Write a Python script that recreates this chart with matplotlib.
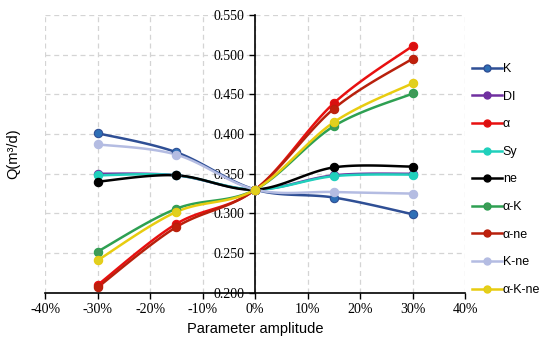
"""Sensitivity of Q to parameter amplitude."""

import numpy as np
import matplotlib
matplotlib.use("Agg")
import matplotlib.pyplot as plt
from matplotlib.lines import Line2D

amplitude = [-30, -15, 0, 15, 30]

q_k = [0.401, 0.377, 0.330, 0.320, 0.299]
q_di = [0.350, 0.348, 0.330, 0.348, 0.350]
q_alpha = [0.210, 0.287, 0.330, 0.439, 0.511]
q_sy = [0.348, 0.348, 0.330, 0.347, 0.349]
q_ne = [0.340, 0.348, 0.330, 0.358, 0.359]
q_alpha_k = [0.252, 0.306, 0.330, 0.410, 0.451]
q_alpha_ne = [0.207, 0.283, 0.330, 0.432, 0.495]
q_k_ne = [0.387, 0.374, 0.330, 0.327, 0.325]
q_alpha_k_ne = [0.241, 0.302, 0.330, 0.415, 0.464]

labels = ["K", "DI", "α", "Sy", "ne", "α-K", "α-ne", "K-ne", "α-K-ne"]
series = [q_k, q_di, q_alpha, q_sy, q_ne, q_alpha_k, q_alpha_ne, q_k_ne, q_alpha_k_ne]
line_colors = ["#2f4f95", "#7030a0", "#e81010", "#20d0bc", "#000000",
               "#2ea052", "#b8200c", "#b4bce2", "#e8cc10"]
marker_colors = ["#2e6fb6", "#7030a0", "#d81010", "#20d0bc", "#000000",
                 "#3f9a58", "#c0200c", "#b4bce2", "#e0d020"]


def smooth(x, y, n=30):
    # bezier smoothing similar to spreadsheet "smoothed line"
    x = np.asarray(x, float)
    y = np.asarray(y, float)
    xs, ys = [], []
    for i in range(len(x) - 1):
        p0 = np.array([x[max(i - 1, 0)], y[max(i - 1, 0)]])
        p1 = np.array([x[i], y[i]])
        p2 = np.array([x[i + 1], y[i + 1]])
        p3 = np.array([x[min(i + 2, len(x) - 1)], y[min(i + 2, len(x) - 1)]])
        c1 = p1 + (p2 - p0) / 6.0
        c2 = p2 - (p3 - p1) / 6.0
        t = np.linspace(0, 1, n)[:, None]
        b = ((1 - t) ** 3) * p1 + 3 * ((1 - t) ** 2) * t * c1 \
            + 3 * (1 - t) * t ** 2 * c2 + t ** 3 * p2
        xs.extend(b[:, 0])
        ys.extend(b[:, 1])
    return xs, ys


fig = plt.figure(figsize=(5.5, 3.45), dpi=100)
ax = fig.add_axes([0.082, 0.151, 0.764, 0.806])

handles = []
for lab, vals, lc, mc in zip(labels, series, line_colors, marker_colors):
    sx, sy = smooth(amplitude, vals)
    ax.plot(sx, sy, color=lc, lw=1.8, zorder=3)
    ax.plot(amplitude, vals, ls="none", marker="o", ms=6,
            mfc=mc, mec=lc, mew=0.8, zorder=4)
    handles.append(Line2D([0], [0], color=lc, lw=1.8, marker="o", ms=5,
                          mfc=mc, mec=lc))

ax.set_xlim(-40, 40)
ax.set_ylim(0.200, 0.550)
ax.set_xticks(range(-40, 41, 10))
ax.set_xticklabels([f"{v}%" for v in range(-40, 41, 10)])
ax.set_yticks(np.arange(0.200, 0.551, 0.050))
ax.set_yticklabels([f"{v:.3f}" for v in np.arange(0.200, 0.551, 0.050)])

ax.spines["left"].set_position(("data", 0))
ax.spines["right"].set_visible(False)
ax.spines["top"].set_visible(False)
ax.spines["left"].set_linewidth(1.2)
ax.spines["bottom"].set_linewidth(1.2)
ax.tick_params(direction="out", length=4, width=1.0, labelsize=10,
               labelfontfamily="Liberation Serif")
ax.grid(True, ls=(0, (4, 3)), color="#d4d4d4", lw=0.9, zorder=0)
ax.set_axisbelow(True)

ax.set_xlabel("Parameter amplitude", family="Liberation Sans", fontsize=10.5)
ax.set_ylabel("Q(m³/d)", family="Liberation Sans", fontsize=10.5, labelpad=0)
ax.yaxis.set_label_coords(-0.058, 0.5)

fig.legend(handles, labels, loc="upper left", bbox_to_anchor=(0.838, 0.85),
           frameon=False, handlelength=2.4, handletextpad=0.05,
           labelspacing=1.25, prop={"family": "Liberation Sans", "size": 9})

fig.savefig("out.png", dpi=100)
plt.close(fig)
